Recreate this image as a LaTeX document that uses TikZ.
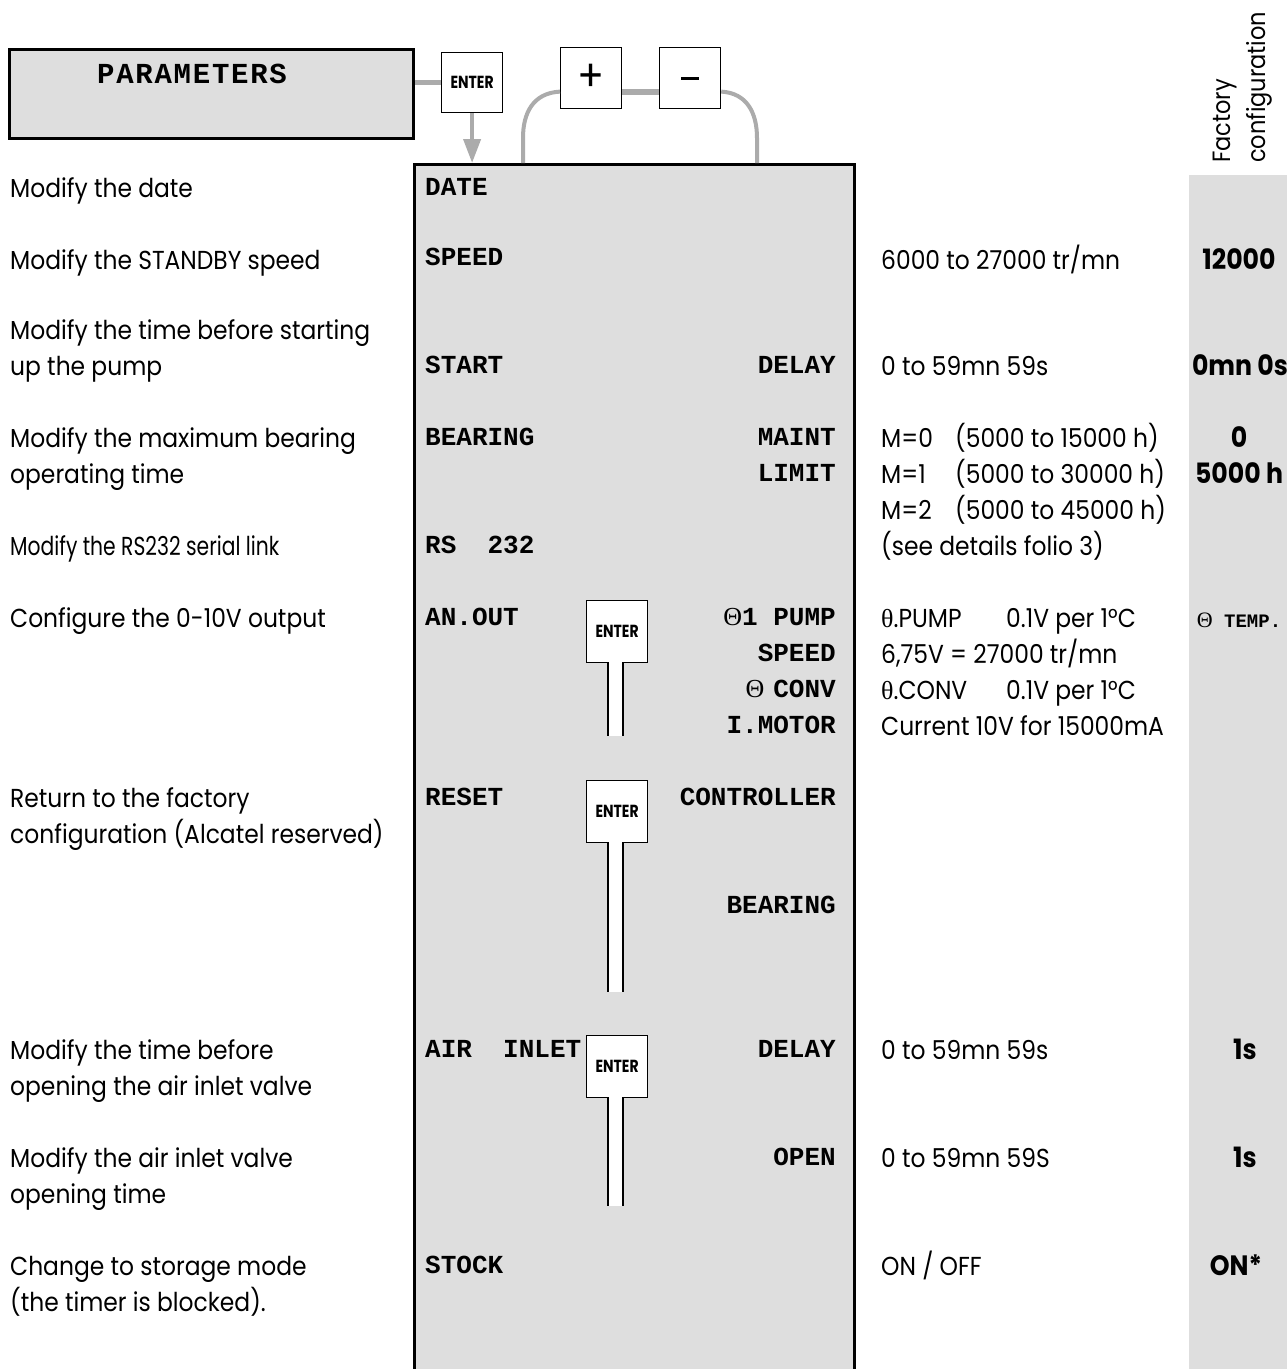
\documentclass[tikz,border=0pt]{standalone}
\usepackage{fontspec}
\usetikzlibrary{arrows.meta}
\setmainfont{Poppins}[FakeStretch=0.9]
\newfontfamily\condf{Poppins}[FakeStretch=0.78]
\newfontfamily\entf{Poppins}[FakeStretch=0.8]
\newfontfamily\cour{Liberation Mono}
\newfontfamily\courwide{Liberation Mono}[LetterSpace=6]
\newfontfamily\symf{Liberation Serif}
\definecolor{bg}{HTML}{DEDEDE}
\definecolor{conn}{HTML}{ABABAB}
\begin{document}
\begin{tikzpicture}[x=1pt,y=-1pt,
  lbl/.style={anchor=base west,inner sep=0,font=\fontsize{26}{30}\selectfont},
  cond/.style={anchor=base west,inner sep=0,font=\condf\fontsize{26}{30}\selectfont},
  mono/.style={anchor=base west,inner sep=0,font=\cour\bfseries\fontsize{26}{30}\selectfont},
  monor/.style={mono,anchor=base east},
  val/.style={anchor=base,inner sep=0,font=\bfseries\fontsize{28}{30}\selectfont},
  key/.style={draw,line width=1.2pt,fill=white,inner sep=0,font=\entf\bfseries\fontsize{17.5}{17.5}\selectfont},
  cline/.style={draw=conn,line width=4pt},
  stem/.style={draw,line width=1.2pt}]
\useasboundingbox (0,0) rectangle (1287,1369);
\clip (0,0) rectangle (1287,1369);

% factory column
\node[fill=bg,inner sep=0,minimum width=98pt,minimum height=1200pt,anchor=north west] (fcol) at (1189,175) {};
\node[rotate=90,anchor=north west,align=left,inner sep=0,font=\fontsize{25}{35}\selectfont] (fhead) at (1213,163) {Factory\\configuration};

% top boxes
\node[draw,line width=2.5pt,fill=bg,inner sep=0,minimum width=404pt,minimum height=89pt,anchor=north west] (params) at (8,48) {};
\node[anchor=base west,inner sep=0,font=\courwide\bfseries\fontsize{29}{30}\selectfont] (ptxt) at (97,83) {PARAMETERS};
\node[key,minimum width=61pt,minimum height=60pt,anchor=north west] (enter) at (441,52) {ENTER};
\node[key,minimum width=61pt,minimum height=61pt,anchor=north west,font=\fontsize{44}{44}\selectfont] (plus) at (560,47) {+};
\node[key,minimum width=61pt,minimum height=61pt,anchor=north west] (minus) at (659,47) {\rule{18pt}{3.2pt}};

% main box
\node[draw,line width=2.5pt,fill=bg,inner sep=0,minimum width=440pt,minimum height=1240pt,anchor=north west] (main) at (413,163) {};

% connectors
\coordinate (la) at (523,138);
\coordinate (ra) at (757,138);
\draw[cline,line width=5pt] (params.east |- enter.west) -- (enter.west);
\draw[draw=conn,line width=4pt,-{Triangle[length=24pt,width=17pt,fill=conn]}] (enter.south) -- (enter.south |- main.north);
\draw[cline,line width=6pt] ([yshift=-13.5pt]plus.east) -- ([yshift=-13.5pt]minus.west);
\draw[cline] ([yshift=-13.5pt]plus.west) .. controls (533,93) and (523,113) .. (la) -- (la |- main.north);
\draw[cline] ([yshift=-13.5pt]minus.east) .. controls (747,93) and (757,113) .. (ra) -- (ra |- main.north);

% inner enter keys with stems
\node[key,minimum width=61pt,minimum height=62pt,anchor=north west] (e1) at (586,600) {ENTER};
\node[key,minimum width=61pt,minimum height=62pt,anchor=north west] (e2) at (586,780) {ENTER};
\node[key,minimum width=61pt,minimum height=62pt,anchor=north west] (e3) at (586,1035) {ENTER};
\fill[white] (608,662) rectangle (623,736);
\draw[stem] (608,662) -- (608,736) (623,662) -- (623,736);
\fill[white] (608,842) rectangle (623,992);
\draw[stem] (608,842) -- (608,992) (623,842) -- (623,992);
\fill[white] (608,1097) rectangle (623,1206);
\draw[stem] (608,1097) -- (608,1206) (623,1097) -- (623,1206);

% left descriptions
\node[lbl] (d1) at (10,197) {Modify the date};
\node[lbl] (d2) at (10,269) {Modify the STANDBY speed};
\node[lbl] (d3) at (10,339) {Modify the time before starting};
\node[lbl] (d3b) at (10,375) {up the pump};
\node[lbl] (d4) at (10,447) {Modify the maximum bearing};
\node[lbl] (d4b) at (10,483) {operating time};
\node[cond] (d5) at (10,555) {Modify the RS232 serial link};
\node[lbl] (d6) at (10,627) {Configure the 0-10V output};
\node[lbl] (d7) at (10,807) {Return to the factory};
\node[lbl] (d7b) at (10,843) {configuration (Alcatel reserved)};
\node[lbl] (d8) at (10,1059) {Modify the time before};
\node[lbl] (d8b) at (10,1095) {opening the air inlet valve};
\node[lbl] (d9) at (10,1167) {Modify the air inlet valve};
\node[lbl] (d9b) at (10,1203) {opening time};
\node[lbl] (d10) at (10,1275) {Change to storage mode};
\node[lbl] (d10b) at (10,1311) {(the timer is blocked).};

% main box labels
\node[mono] (m1) at (425,195) {DATE};
\node[mono] (m2) at (425,265) {SPEED};
\node[mono] (m3) at (425,373) {START};
\node[monor] (m3r) at (836,373) {DELAY};
\node[mono] (m4) at (425,445) {BEARING};
\node[monor] (m4r) at (836,445) {MAINT};
\node[monor] (m4s) at (836,481) {LIMIT};
\node[mono] (m5) at (425,553) {RS\ \ 232};
\node[mono] (m6) at (425,625) {AN.OUT};
\node[monor] (m6a) at (836,625) {{\symf\mdseries Θ}1 PUMP};
\node[monor] (m6b) at (836,661) {SPEED};
\node[monor] (m6c) at (836,697) {{\symf\mdseries Θ}\kern9pt CONV};
\node[monor] (m6d) at (836,733) {I.MOTOR};
\node[mono] (m7) at (425,805) {RESET};
\node[monor] (m7a) at (836,805) {CONTROLLER};
\node[monor] (m7b) at (836,913) {BEARING};
\node[mono] (m8) at (425,1057) {AIR\ \ INLET};
\node[monor] (m8a) at (836,1057) {DELAY};
\node[monor] (m8b) at (836,1165) {OPEN};
\node[mono] (m9) at (425,1273) {STOCK};

% ranges
\node[lbl] (r2) at (881,269) {6000 to 27000 tr/mn};
\node[lbl] (r3) at (881,375) {0 to 59mn 59s};
\node[lbl] (r4a) at (881,447) {M=0};
\node[lbl] (r4ab) at (955,447) {(5000 to 15000 h)};
\node[lbl] (r4b) at (881,483) {M=1};
\node[lbl] (r4bb) at (955,483) {(5000 to 30000 h)};
\node[lbl] (r4c) at (881,519) {M=2};
\node[lbl] (r4cb) at (955,519) {(5000 to 45000 h)};
\node[lbl] (r5) at (881,555) {(see details folio 3)};
\node[lbl] (r6a) at (881,627) {{\symf θ}.PUMP};
\node[lbl] (r6ab) at (1006,627) {0.1V per 1°C};
\node[lbl] (r6b) at (881,663) {6,75V = 27000 tr/mn};
\node[lbl] (r6c) at (881,699) {{\symf θ}.CONV};
\node[lbl] (r6cb) at (1006,699) {0.1V per 1°C};
\node[lbl] (r6d) at (881,735) {Current 10V for 15000mA};
\node[lbl] (r8) at (881,1059) {0 to 59mn 59s};
\node[lbl] (r9) at (881,1167) {0 to 59mn 59S};
\node[lbl] (r10) at (881,1275) {ON / OFF};

% factory values
\node[val] (v2) at (1239,269) {12000};
\node[val] (v3) at (1240,375) {0mn 0s};
\node[val] (v4a) at (1239,447) {0};
\node[val] (v4b) at (1239,483) {5000 h};
\node[anchor=base,inner sep=0,font=\cour\bfseries\fontsize{19}{20}\selectfont] (v6) at (1239,627) {{\symf\mdseries\fontsize{22}{22}\selectfont Θ} TEMP.};
\node[val] (v8) at (1245,1059) {1s};
\node[val] (v9) at (1245,1167) {1s};
\node[val] (v10) at (1236,1275) {ON*};
\end{tikzpicture}
\end{document}
